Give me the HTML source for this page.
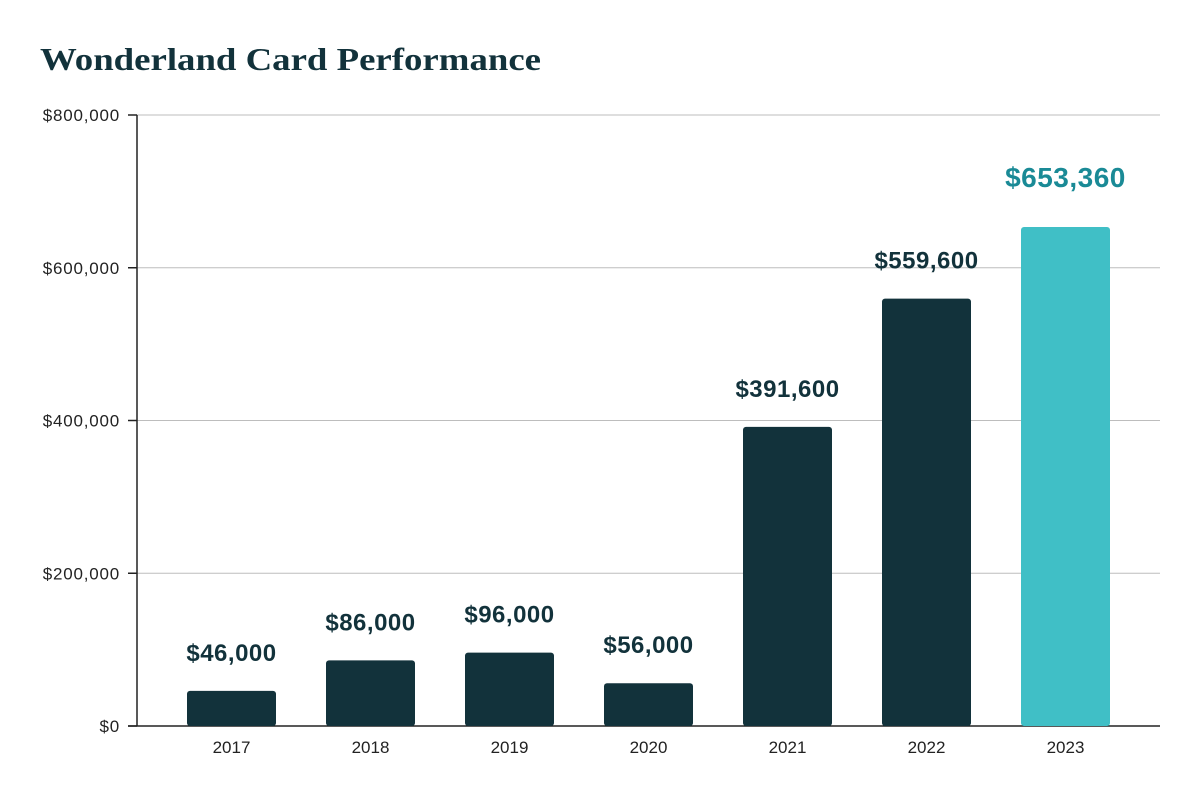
<!DOCTYPE html>
<html><head><meta charset="utf-8"><style>
html,body{margin:0;padding:0;background:#fff;}
svg{display:block;}
</style></head><body>
<svg id="chart" width="1191" height="799" viewBox="0 0 1191 799" xmlns="http://www.w3.org/2000/svg">
<text x="40" y="70" font-family="'Liberation Serif',serif" font-weight="bold" font-size="32" fill="#12323b" textLength="501" lengthAdjust="spacingAndGlyphs">Wonderland Card Performance</text>
<g id="grid"></g><g id="bars"></g><g id="labels"></g>
</svg>
<script>
const categories=["2017","2018","2019","2020","2021","2022","2023"];
const values=[46000,86000,96000,56000,391600,559600,653360];
const valueLabels=["$46,000","$86,000","$96,000","$56,000","$391,600","$559,600","$653,360"];
const yTicks=[0,200000,400000,600000,800000];
const yTickLabels=["$0","$200,000","$400,000","$600,000","$800,000"];
const NS="http://www.w3.org/2000/svg";
const y0=726,yTop=115,yMax=800000,axX=137,right=1160;
const y=v=>y0-(v/yMax)*(y0-yTop);
const band=139,firstX=187,bw=89;
const x=i=>firstX+i*band;
function mk(tag,attrs,parent){const e=document.createElementNS(NS,tag);for(const k in attrs)e.setAttribute(k,attrs[k]);parent.appendChild(e);return e;}
const grid=document.getElementById('grid'),bars=document.getElementById('bars'),labels=document.getElementById('labels');
yTicks.forEach((t,i)=>{
  if(t>0){const l=mk('line',{x1:axX,x2:right,y1:y(t),y2:y(t),stroke:'#bdbdbd','stroke-width':1},grid);
  
  }
  const tk=mk('line',{x1:128,x2:axX,y1:y(t),y2:y(t),stroke:'#222','stroke-width':1.5},grid);
  
  
  const tx=mk('text',{x:120,y:y(t)+6,'text-anchor':'end','font-family':"'Liberation Sans',sans-serif",'font-size':17,'letter-spacing':0.8,fill:'#222'},grid);
  tx.textContent=yTickLabels[i];
  
  
});
const ax=mk('line',{x1:axX,x2:axX,y1:yTop,y2:y0,stroke:'#222','stroke-width':1.5},grid);


const bl=mk('line',{x1:128,x2:right,y1:y0,y2:y0,stroke:'#222','stroke-width':1.5},grid);


categories.forEach((c,i)=>{
  const last=i===categories.length-1;
  const r=mk('rect',{x:x(i),y:y(values[i]),width:bw,height:y0-y(values[i]),rx:3,fill:last?'#40bfc6':'#12323b'},bars);
  
  
  const vl=mk('text',{x:x(i)+bw/2,y:y(values[i])-(last?40:30),'text-anchor':'middle','font-family':"'Liberation Sans',sans-serif",'font-weight':'bold','font-size':last?28:24,'letter-spacing':0.5,fill:last?'#1a8a96':'#12323b'},labels);
  vl.textContent=valueLabels[i];
  
  
  const xl=mk('text',{x:x(i)+bw/2,y:753,'text-anchor':'middle','font-family':"'Liberation Sans',sans-serif",'font-size':17,fill:'#222'},labels);
  xl.textContent=c;
  
  
});
</script>
</body></html>
